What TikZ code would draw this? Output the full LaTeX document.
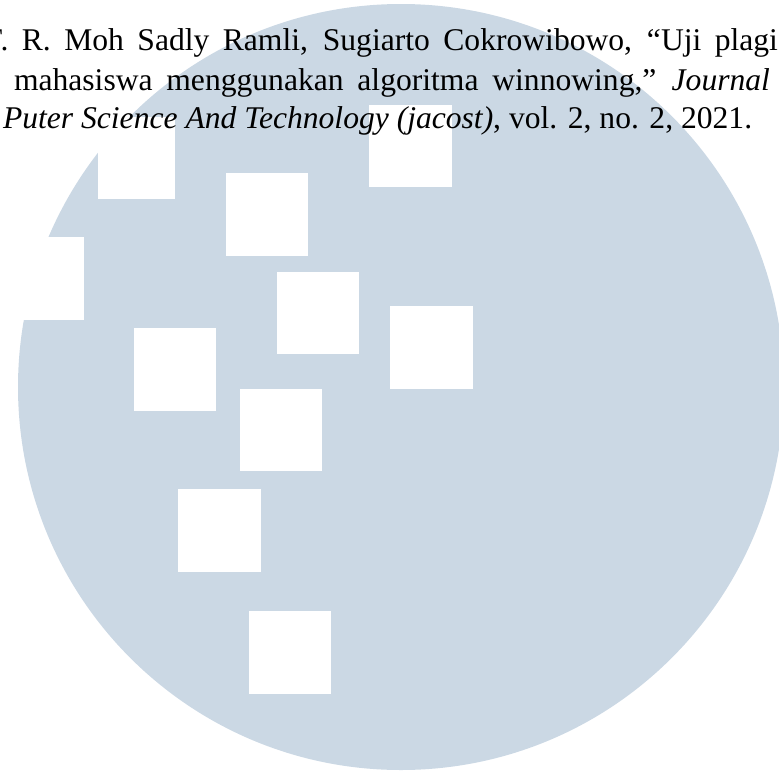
\documentclass[tikz,border=0pt]{standalone}
\usepackage{fontspec}
\setmainfont{Liberation Serif}
\definecolor{disc}{HTML}{CBD8E4}
\newcommand{\refline}[2]{\hbox to #1pt{\spaceskip=0.25em plus 1fil\relax #2}}
\tikzset{
  hole/.style={fill=white,draw=none},
  refl/.style={anchor=base west,inner sep=0pt,outer sep=0pt,text=black,font=\fontsize{31.6}{38}\selectfont}
}
\begin{document}
\begin{tikzpicture}[x=1pt,y=-1pt]
\useasboundingbox (0,0) rectangle (779,774);
\clip (0,0) rectangle (779,774);
\fill[disc] (401,387) circle[radius=383pt];
\foreach \xa/\ya/\xb/\yb in {
  98/117/175/199, 226/173/308/255.5, 277/272/359/354, 369/105/452/187,
  0/237/84/320, 134/328/216/411, 390/306/473/389, 240/389/322/471,
  178/489/261/572, 249/611/331/694}
  \fill[hole] (\xa,\ya) rectangle (\xb,\yb);
\node[refl] (l1) at (-14.5,50) {\refline{792.5}{F. R. Moh Sadly Ramli, Sugiarto Cokrowibowo, “Uji plagi}};
\node[refl] (l2) at (14,90) {\refline{756}{mahasiswa menggunakan algoritma winnowing,” \textit{Journal}}};
\node[refl] (l3) at (3,128) {\textit{Puter Science And Technology (jacost)}, vol. 2, no. 2, 2021.};
\end{tikzpicture}
\end{document}
